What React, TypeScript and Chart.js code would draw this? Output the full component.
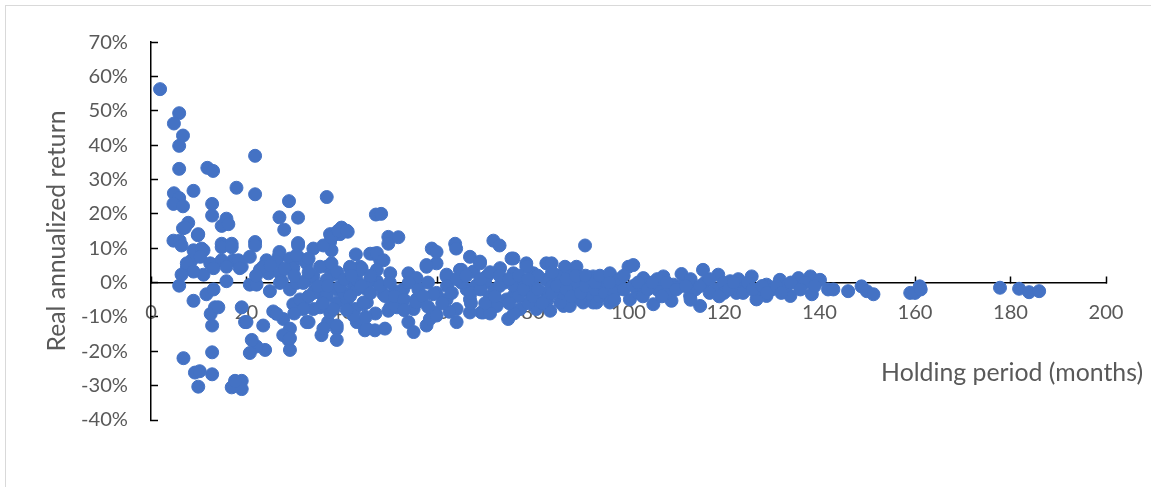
import React, { useEffect, useRef } from 'react';
import { Chart, registerables } from 'chart.js';

Chart.register(...registerables);

// Holding period (months), real annualized return (%)
const periodsUnder20: [number, number][] = [
  [1.9, 56.3], [5.9, 49.3], [4.8, 46.3], [6.7, 42.8], [5.9, 39.8], [5.9, 33.1], [11.8, 33.4], [13.0, 32.5],
  [17.9, 27.6], [8.9, 26.7], [4.8, 26.0], [5.9, 24.6], [4.7, 22.9], [6.7, 22.2], [12.8, 22.9], [12.8, 19.5],
  [15.8, 18.6], [14.8, 16.5], [16.2, 17.0], [7.8, 17.4], [6.7, 15.8], [9.8, 13.8], [14.8, 11.3], [16.9, 11.3],
  [4.7, 12.2], [6.0, 12.2], [6.4, 10.8], [8.9, 9.4], [11.0, 9.4], [14.8, 10.3], [16.9, 10.3], [10.6, 9.9],
  [8.5, 6.5], [7.5, 4.2], [6.4, 2.3], [5.9, -0.9], [11.0, 2.3], [13.1, 5.1], [15.8, 0.4], [17.2, 6.5],
  [19.0, 4.6], [7.5, 5.6], [10.3, 7.5], [12.4, 5.6], [14.8, 6.5], [18.3, 6.5], [8.9, 3.2], [13.1, 4.2],
  [15.8, 4.6], [18.6, 4.2], [8.9, -5.3], [11.6, -3.4], [13.1, -2.0], [13.4, -7.2], [12.5, -9.1], [12.8, -12.5],
  [19.0, -7.2], [19.7, -11.5], [14.1, -7.2], [6.8, -22.0], [9.2, -26.2], [10.2, -25.8], [9.9, -30.3],
  [12.8, -20.3], [12.8, -26.7], [16.9, -30.5], [19.0, -28.6], [19.0, -31.0], [17.6, -28.6], [7.1, 16.0],
  [9.9, 14.1],
];

const periods20to40: [number, number][] = [
  [21.8, 36.9], [21.8, 25.7], [28.9, 23.7], [36.8, 24.9], [26.9, 19.0], [30.8, 18.9], [27.9, 15.4], [21.8, 11.8],
  [30.8, 11.5], [21.8, 10.8], [26.9, 8.9], [30.8, 10.8], [34.0, 9.9], [37.5, 11.8], [38.2, 13.7], [39.6, 14.1],
  [37.5, 14.1], [20.7, 7.5], [24.2, 6.5], [26.7, 7.5], [29.1, 7.0], [22.8, 3.7], [24.6, 2.7], [27.0, 2.7],
  [20.7, -0.6], [22.1, -0.6], [23.5, 4.6], [24.9, -2.5], [26.3, 6.1], [27.4, 0.4], [29.1, -2.0], [29.8, 4.2],
  [31.2, 7.0], [32.6, 0.8], [34.4, -2.0], [35.4, -3.0], [36.8, 4.6], [38.2, 2.3], [38.9, -2.0], [27.0, -0.1],
  [30.5, -0.1], [20.0, -11.5], [23.5, -12.5], [25.6, -8.4], [27.7, -10.6], [29.1, -13.4], [27.7, -15.3],
  [28.8, -16.7], [29.1, -19.6], [23.9, -19.6], [22.1, -18.6], [21.1, -16.7], [20.7, -20.5], [29.8, -6.3],
  [33.0, -11.5], [31.9, -5.8], [34.0, -7.7], [35.7, -15.3], [37.1, -11.5], [38.9, -13.4], [38.9, -16.7],
  [37.5, -8.7], [26.3, -9.1], [30.5, 8.0], [32.6, 5.6], [35.4, 4.6], [37.8, 5.6], [37.8, 9.4], [36.1, 10.8],
  [34.0, 1.8], [36.8, 0.8], [31.9, -0.1], [31.2, -4.9], [34.0, -3.0], [36.8, -3.9], [38.9, -5.8], [31.9, -7.7],
  [35.4, -7.2], [38.2, -7.7], [32.6, -11.5], [36.1, -13.4], [38.9, -12.5], [39.9, 16.0], [38.2, 14.1],
  [29.1, -16.2], [37.8, 13.2], [39.2, 15.1], [22.0, 2.0], [25.0, 5.0], [28.0, 4.0], [30.0, 2.0], [33.0, 3.0],
  [35.0, -1.0], [37.0, -1.0], [33.0, -4.0], [36.0, -6.0], [30.0, -9.0], [33.0, 7.0], [39.0, 3.0],
];

const periods40to60: [number, number][] = [
  [41.2, 14.8], [42.9, 8.2], [46.6, 8.4], [48.0, 6.5], [49.7, 13.3], [49.7, 11.3], [51.8, 13.2], [41.7, 4.2],
  [43.8, 4.6], [42.4, -1.1], [45.2, -2.0], [47.3, 0.4], [48.7, -3.4], [50.1, 2.7], [51.1, -2.5], [49.7, -8.2],
  [51.5, -7.2], [41.0, -4.9], [43.1, -11.5], [44.8, -13.9], [46.9, -13.9], [49.0, -13.4], [42.7, -7.7],
  [44.5, -6.3], [47.1, 19.8], [48.2, 20.0], [41.0, 15.1], [45.9, 8.4], [47.3, 8.6], [48.7, 6.5], [44.1, 4.2],
  [53.9, 2.7], [55.6, 1.3], [57.7, 4.6], [59.8, 5.6], [58.8, 9.9], [59.8, 8.9], [49.0, -3.9], [50.1, -7.2],
  [51.1, -6.8], [52.8, -2.0], [55.6, -4.9], [55.0, -7.7], [53.9, -11.5], [55.0, -14.4], [57.7, -12.5],
  [59.5, -8.7], [59.8, -3.0], [45.2, -13.4], [43.1, -2.0], [40.3, -3.0], [45.9, 0.8], [45.2, -5.8], [39.6, -1.1],
  [43.1, 0.8], [41.7, -3.9], [44.5, -5.8], [42.4, -9.6], [52.1, -3.0], [55.6, -5.8], [59.1, -3.4], [58.4, -10.6],
  [43.8, 3.7], [47.3, 3.7], [41.7, 4.6], [59.8, -9.6], [57.7, 5.1], [40.5, 1.0], [42.0, 2.0], [44.0, -1.0],
  [46.0, 2.0], [46.0, -3.0], [48.0, -1.0], [50.0, 0.0], [51.0, -4.0], [53.0, -5.0], [54.0, 0.0], [56.0, -2.0],
  [57.0, -4.0], [58.0, -7.0], [58.0, 0.0], [53.0, -8.0], [47.0, -9.0], [45.0, -10.0], [41.0, -8.0],
];

const periods60to95: [number, number][] = [
  [63.7, 11.3], [63.9, 9.9], [71.7, 12.2], [73.0, 10.8], [66.8, 7.5], [68.9, 6.1], [75.5, 7.0], [78.6, 5.6],
  [82.8, 5.6], [61.9, 1.8], [65.0, 3.7], [67.5, 3.2], [70.3, 1.8], [73.1, 4.2], [75.9, 2.7], [80.1, 2.7],
  [82.8, 0.8], [61.9, -4.9], [64.0, -11.5], [64.0, -7.7], [66.1, -2.0], [66.8, -4.9], [69.2, -8.7], [71.0, -3.9],
  [72.4, -6.8], [74.8, -10.6], [74.5, -4.9], [77.3, -7.7], [79.4, -3.0], [81.5, -5.8], [82.8, -3.0], [90.9, 10.8],
  [83.9, 5.6], [87.0, 4.2], [89.1, 4.6], [61.9, 2.3], [64.7, 3.7], [68.9, 5.6], [78.6, 4.6], [92.6, 1.3],
  [66.8, -8.7], [69.6, -8.7], [80.7, -7.7], [86.4, -6.8], [90.5, -5.8], [92.6, -5.8], [75.9, -3.9], [86.7, 4.6],
  [92.6, 1.8], [89.8, -4.9], [87.7, -6.8], [83.6, -8.2], [85.7, -5.8], [93.3, -5.8], [79.4, -2.0], [75.9, 7.0],
  [62.0, -1.0], [65.0, 0.0], [68.0, -1.0], [70.0, 0.0], [72.0, -2.0], [74.0, 0.0], [76.0, -1.0], [78.0, 0.5],
  [80.0, -1.0], [84.0, -1.0], [86.0, 0.0], [88.0, -2.0], [90.0, 0.0], [92.0, -3.0], [94.0, -1.0], [85.0, 2.0],
  [88.0, 2.0], [62.5, -8.5], [67.0, -6.0], [71.0, -9.0], [76.0, -9.0], [79.0, -6.0], [83.0, -5.0], [70.0, -6.0],
  [73.0, -1.0], [77.0, -4.0], [81.0, 2.0], [86.0, -3.0], [89.0, -1.0], [94.0, -4.0], [95.0, 0.0],
  [61.0, -6.0], [63.0, -3.0], [64.0, 1.0], [66.0, 2.0], [67.0, -3.0], [69.0, -2.0], [69.0, 1.0], [71.0, 3.0],
  [72.0, -4.0], [73.0, 2.0], [75.0, -6.0], [75.0, 1.0], [77.0, 2.0], [78.0, -2.0], [79.0, 1.0], [80.0, -4.0],
  [81.0, -2.0], [82.0, -6.0], [84.0, -3.0], [84.0, 3.0], [85.0, -1.0], [87.0, -2.0], [87.0, 1.0], [88.0, -4.0],
  [89.0, 2.0], [90.0, -3.0], [91.0, -1.0], [91.0, 2.0], [93.0, -2.0], [93.0, 0.0], [94.0, 2.0], [95.0, -3.0],
];

const periods95to140: [number, number][] = [
  [96.1, 2.7], [100.0, 4.6], [101.0, 5.1], [103.1, 1.3], [107.3, 1.8], [111.1, 2.5], [115.6, 3.7], [118.8, 2.3],
  [121.3, 0.4], [125.8, 1.8], [128.9, -0.6], [131.7, 0.8], [135.6, 1.3], [138.1, 1.8], [140.1, 0.8],
  [141.8, -2.0], [138.4, -3.4], [133.9, -3.9], [128.9, -3.9], [126.8, -4.9], [122.6, -3.0], [118.4, -2.0],
  [115.0, -6.8], [112.9, -3.9], [109.0, -5.3], [105.2, -6.3], [100.3, -4.9], [96.1, -5.8], [98.2, -1.1],
  [104.1, -0.6], [109.4, -0.6], [119.9, -0.1], [135.9, -1.1], [97.0, -3.0], [102.0, -3.0], [106.0, -2.0],
  [108.0, -3.0], [111.0, -1.0], [114.0, -2.0], [116.0, 0.0], [120.0, -3.0], [124.0, -1.0], [127.0, -2.0],
  [130.0, -2.0], [133.0, -1.0], [137.0, 0.0], [106.0, 1.0], [113.0, 1.0], [123.0, 1.0], [98.0, 1.0],
  [96.0, 0.0], [97.0, -5.0], [99.0, -2.0], [99.0, 2.0], [101.0, -1.0], [102.0, 0.0], [103.0, -4.0],
  [104.0, -2.0], [105.0, 0.0], [107.0, -4.0], [108.0, 0.0], [110.0, -2.0], [112.0, -1.0], [113.0, -5.0],
  [115.0, -1.0], [117.0, -3.0], [117.0, 1.0], [119.0, -4.0], [121.0, -2.0], [122.0, 0.0], [124.0, -3.0],
  [125.0, 0.0], [126.0, -2.0], [128.0, -1.0], [129.0, -3.0], [131.0, -1.0], [132.0, -3.0], [134.0, 0.0],
  [136.0, -2.0], [139.0, -1.0],
];

const periodsOver140: [number, number][] = [
  [142.9, -2.0], [146.0, -2.5], [148.8, -1.1], [149.9, -2.5], [151.3, -3.4], [159.0, -3.0], [160.0, -3.0],
  [161.0, -1.1], [161.2, -2.0], [177.8, -1.5], [181.8, -1.8], [183.9, -2.8], [186.0, -2.5],
];

const xTitle = 'Holding period (months)';
const yTitle = 'Real annualized return';
const xMin = 0, xMax = 200, xStep = 20;
const yMin = -40, yMax = 70, yStep = 10;

const FONT = 'Lato';
const LABEL_COLOR = '#595959';
const POINT_COLOR = '#4472C4';

function fitFontSize(text: string, targetWidth: number): number {
  const c = document.createElement('canvas').getContext('2d')!;
  c.font = `100px ${FONT}`;
  const w = c.measureText(text).width;
  return (100 * targetWidth) / w;
}

export default function App() {
  const ref = useRef<HTMLCanvasElement | null>(null);

  useEffect(() => {
    if (!ref.current) return;
    const tickSize = fitFontSize('-40%', 47);
    const titleSize = fitFontSize(xTitle, 262);
    const yTitleSize = fitFontSize(yTitle, 241);

    const allPoints = [
      ...periodsUnder20, ...periods20to40, ...periods40to60,
      ...periods60to95, ...periods95to140, ...periodsOver140,
    ].map(([x, y]) => ({ x, y }));

    const titles = {
      id: 'axisTitles',
      afterDraw(chart: any) {
        const { ctx, chartArea } = chart;
        ctx.save();
        ctx.fillStyle = LABEL_COLOR;
        ctx.font = `${titleSize}px ${FONT}`;
        ctx.textAlign = 'right';
        ctx.textBaseline = 'alphabetic';
        ctx.fillText(xTitle, chartArea.right + 37, 381);
        ctx.font = `${yTitleSize}px ${FONT}`;
        ctx.translate(65, (chartArea.top + chartArea.bottom) / 2);
        ctx.rotate(-Math.PI / 2);
        ctx.textAlign = 'center';
        ctx.fillText(yTitle, 0, 0);
        ctx.restore();
      },
    };

    const chart = new Chart(ref.current, {
      type: 'scatter',
      data: {
        datasets: [
          {
            data: allPoints,
            backgroundColor: POINT_COLOR,
            borderColor: POINT_COLOR,
            borderWidth: 1,
            pointRadius: 6.5,
          },
        ],
      },
      options: {
        animation: false,
        responsive: true,
        maintainAspectRatio: false,
        layout: { padding: { left: 0, right: 45, top: 34, bottom: 67 } },
        plugins: { legend: { display: false }, tooltip: { enabled: false } },
        scales: {
          x: {
            type: 'linear',
            position: { y: 0 } as any,
            min: xMin,
            max: xMax,
            ticks: {
              stepSize: xStep,
              color: LABEL_COLOR,
              font: { family: FONT, size: tickSize },
              padding: 25,
              maxRotation: 0,
            },
            grid: {
              drawOnChartArea: false,
              drawTicks: true,
              tickLength: -7,
              tickColor: '#000000',
              tickWidth: 1.5,
            },
            border: { display: true, color: '#000000', width: 1.5 },
          },
          y: {
            type: 'linear',
            position: 'left',
            min: yMin,
            max: yMax,
            afterFit(scale: any) {
              scale.width = 151;
            },
            ticks: {
              stepSize: yStep,
              color: LABEL_COLOR,
              font: { family: FONT, size: tickSize },
              padding: 30,
              callback: (v: any) => `${v}%`,
            },
            grid: {
              drawOnChartArea: false,
              drawTicks: true,
              tickLength: -7,
              tickColor: '#000000',
              tickWidth: 1.5,
            },
            border: { display: true, color: '#000000', width: 1.5 },
          },
        },
      },
      plugins: [titles],
    });
    return () => chart.destroy();
  }, []);

  return (
    <div style={{ position: 'fixed', left: 0, top: 0, width: 1151, height: 487, overflow: 'hidden', background: '#fff' }}>
      <div
        style={{
          position: 'absolute', left: 5, top: 5, width: 1160, height: 500,
          borderLeft: '1px solid #d9d9d9', borderTop: '1px solid #d9d9d9',
        }}
      />
      <div style={{ position: 'absolute', left: 0, top: 0, width: 1151, height: 487 }}>
        <canvas ref={ref} />
      </div>
    </div>
  );
}
